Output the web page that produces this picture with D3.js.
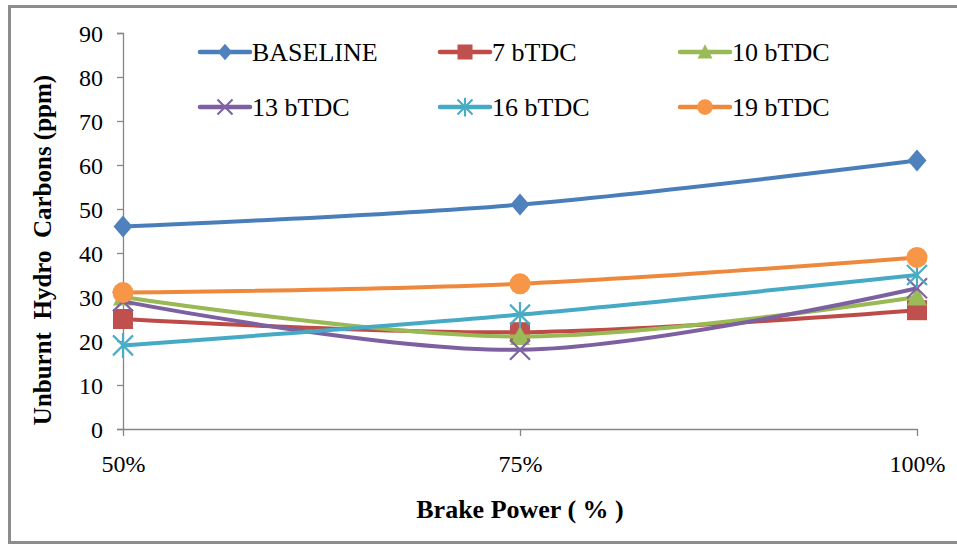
<!DOCTYPE html>
<html>
<head>
<meta charset="utf-8">
<script src="https://cdn.jsdelivr.net/npm/d3@7/dist/d3.min.js"></script>
<style>
  html, body { margin: 0; padding: 0; background: #fff; }
  svg { display: block; }
  text { font-family: "Liberation Serif", "Times New Roman", serif; fill: #000; }
</style>
</head>
<body>
<svg id="chart" width="957" height="545"></svg>
<script>
// Brake power load points
const categories = ["50%", "75%", "100%"];

// Unburnt hydrocarbon emissions (ppm) per injection timing
const baseline = [46, 51, 61];
const bTDC7   = [25, 22, 27];
const bTDC10  = [30, 21, 30];
const bTDC13  = [29, 18, 32];
const bTDC16  = [19, 26, 35];
const bTDC19  = [31, 33, 39];

const seriesNames = ["BASELINE", "7 bTDC", "10 bTDC", "13 bTDC", "16 bTDC", "19 bTDC"];
const seriesValues = [baseline, bTDC7, bTDC10, bTDC13, bTDC16, bTDC19];

const yTicks = [0, 10, 20, 30, 40, 50, 60, 70, 80, 90];

const colors = ["#4A7EBB", "#BE4B48", "#98B954", "#7D60A0", "#46AAC5", "#EE883C"];
const markerColors = ["#4F81BD", "#C0504D", "#9BBB59", "#8064A2", "#4BACC6", "#F79646"];
const markerTypes = ["diamond", "square", "triangle", "x", "star", "circle"];

const svg = d3.select("#chart");
const axisGray = "#868686";
const serif = "'Liberation Serif', 'Times New Roman', serif";

// outer chart frame (right edge runs past the canvas)
svg.append("rect")
  .attr("x", 9.5).attr("y", 6.5)
  .attr("width", 960).attr("height", 536)
  .attr("fill", "none").attr("stroke", "#8c8c8c").attr("stroke-width", 3);

const plot = { left: 123, right: 917, top: 33, bottom: 429 };

const x = d3.scalePoint().domain(categories).range([plot.left, plot.right]).padding(0);
const y = d3.scaleLinear().domain([0, 90]).range([plot.bottom, plot.top]);

// y axis
const yAxis = svg.append("g")
  .attr("transform", `translate(${plot.left},0)`)
  .call(d3.axisLeft(y).tickValues(yTicks).tickSize(6).tickPadding(14).tickFormat(d3.format("d")));
yAxis.select(".domain").attr("stroke", axisGray).attr("stroke-width", 1.3);
yAxis.selectAll(".tick line").attr("stroke", axisGray).attr("stroke-width", 1.3);
yAxis.selectAll(".tick text")
  .style("font-family", serif)
  .style("font-size", "24px").attr("fill", "#000").attr("dy", "0.34em");

// x axis
const xAxis = svg.append("g")
  .attr("transform", `translate(0,${plot.bottom})`)
  .call(d3.axisBottom(x).tickSize(7).tickPadding(19).tickSizeOuter(0));
xAxis.select(".domain").attr("stroke", axisGray).attr("stroke-width", 1.3);
xAxis.selectAll(".tick line").attr("stroke", axisGray).attr("stroke-width", 1.3);
xAxis.selectAll(".tick text")
  .style("font-family", serif)
  .style("font-size", "24px").attr("fill", "#000");

// axis titles
svg.append("text")
  .attr("x", 520).attr("y", 518)
  .attr("text-anchor", "middle")
  .style("font-size", "26px").style("font-weight", "bold")
  .text("Brake Power ( % )");

svg.append("text")
  .attr("transform", "translate(51,250) rotate(-90)")
  .attr("text-anchor", "middle")
  .style("font-size", "25px").style("font-weight", "bold")
  .style("white-space", "pre")
  .attr("xml:space", "preserve")
  .text("Unburnt  Hydro  Carbons (ppm)");

// marker drawing
function drawMarker(g, type, cx, cy, size, fill) {
  const s = size;
  if (type === "diamond") {
    g.append("path")
      .attr("d", `M${cx},${cy - s * 1.1}L${cx + s * 0.95},${cy}L${cx},${cy + s * 1.1}L${cx - s * 0.95},${cy}Z`)
      .attr("fill", fill);
  } else if (type === "square") {
    g.append("rect")
      .attr("x", cx - s).attr("y", cy - s)
      .attr("width", 2 * s).attr("height", 2 * s)
      .attr("fill", fill);
  } else if (type === "triangle") {
    g.append("path")
      .attr("d", `M${cx},${cy - s * 1.05}L${cx + s},${cy + s * 0.85}L${cx - s},${cy + s * 0.85}Z`)
      .attr("fill", fill);
  } else if (type === "circle") {
    g.append("circle").attr("cx", cx).attr("cy", cy).attr("r", s * 1.05).attr("fill", fill);
  } else if (type === "x") {
    g.append("path")
      .attr("d", `M${cx - s},${cy - s}L${cx + s},${cy + s}M${cx - s},${cy + s}L${cx + s},${cy - s}`)
      .attr("stroke", fill).attr("stroke-width", 2.2).attr("fill", "none");
  } else if (type === "star") {
    g.append("path")
      .attr("d", `M${cx - s},${cy - s}L${cx + s},${cy + s}M${cx - s},${cy + s}L${cx + s},${cy - s}M${cx},${cy - s * 1.25}L${cx},${cy + s * 1.25}`)
      .attr("stroke", fill).attr("stroke-width", 2.2).attr("fill", "none");
  }
}

// smoothed series lines and their markers
const line = d3.line()
  .x((d, i) => x(categories[i]))
  .y(d => y(d))
  .curve(d3.curveCatmullRom.alpha(0.5));

const seriesLayer = svg.append("g");
seriesValues.forEach((vals, k) => {
  const g = seriesLayer.append("g");
  g.append("path")
    .attr("d", line(vals))
    .attr("fill", "none")
    .attr("stroke", colors[k])
    .attr("stroke-width", 4)
    .attr("stroke-linecap", "round");
  vals.forEach((v, i) => {
    drawMarker(g, markerTypes[k], x(categories[i]), y(v), 10, markerColors[k]);
  });
});

// legend
const legendCols = [200, 440, 680];
const legendRows = [52, 107];
const legend = svg.append("g");
seriesNames.forEach((name, k) => {
  const lx = legendCols[k % 3];
  const ly = legendRows[Math.floor(k / 3)];
  const g = legend.append("g");
  g.append("line")
    .attr("x1", lx).attr("x2", lx + 50)
    .attr("y1", ly).attr("y2", ly)
    .attr("stroke", colors[k]).attr("stroke-width", 4.5).attr("stroke-linecap", "round");
  drawMarker(g, markerTypes[k], lx + 25, ly, 7.5, markerColors[k]);
  g.append("text")
    .attr("x", lx + 52).attr("y", ly)
    .attr("dy", "0.35em")
    .style("font-size", "26px")
    .text(name);
});
</script>
</body>
</html>
